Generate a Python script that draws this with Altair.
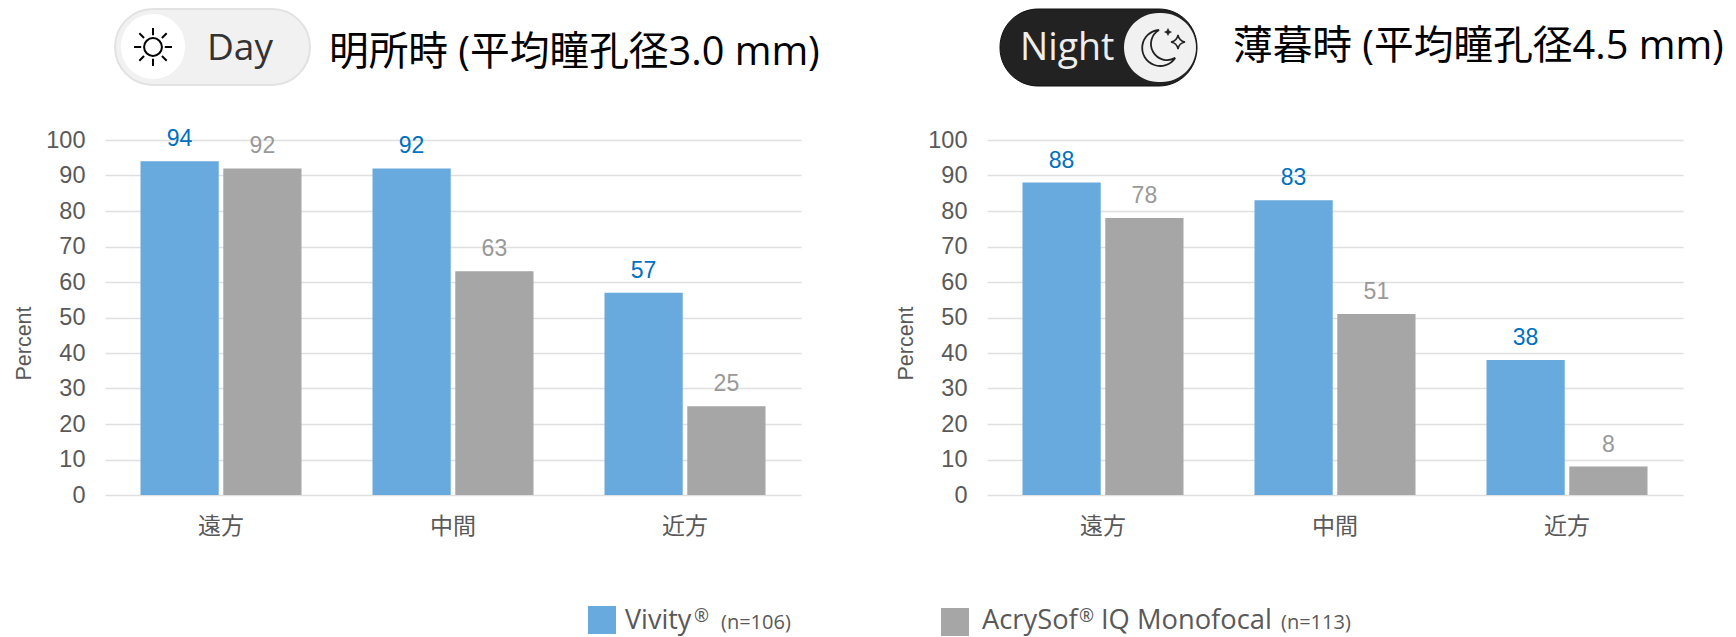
import altair as alt
import pandas as pd

categories = ["遠方", "中間", "近方"]
series = ["Vivity", "AcrySof"]
day_vivity = [94, 92, 57]
day_acrysof = [92, 63, 25]
night_vivity = [88, 83, 38]
night_acrysof = [78, 51, 8]
ticks = list(range(0, 101, 10))

BLUE = "#68a9de"
GREY = "#a6a6a6"
BLUE_TXT = "#0070c0"
GREY_TXT = "#999999"
AXIS_TXT = "#595959"
GRID = "#e0e0e0"
LAT = "Liberation Sans, Noto Sans CJK JP"
OPEN = "Open Sans, Noto Sans CJK JP"

PW, PH = 696, 355
TOPY, LEFT1, LEFT2 = 140, 105, 987

SUN = ("M-0.47,0 A0.47,0.47 0 1,1 0.47,0 A0.47,0.47 0 1,1 -0.47,0 Z "
       "M0,-0.62 L0,-1 M0,0.62 L0,1 M-0.62,0 L-1,0 M0.62,0 L1,0 "
       "M-0.47,-0.47 L-0.72,-0.72 M0.47,-0.47 L0.72,-0.72 "
       "M-0.47,0.47 L-0.72,0.72 M0.47,0.47 L0.72,0.72")
MOON = "M0,-1 A1,1 0 1,0 0.9,0.55 A0.85,0.85 0 0,1 0,-1 Z"
STAR = "M0,-1 Q0.15,-0.15 1,0 Q0.15,0.15 0,1 Q-0.15,0.15 -1,0 Q-0.15,-0.15 0,-1 Z"


def frame(vals_a, vals_b):
    return pd.DataFrame({
        "cat": categories * 2,
        "series": [series[0]] * 3 + [series[1]] * 3,
        "value": list(vals_a) + list(vals_b),
    })


def T(x, y, text, size, color="#000000", font=OPEN, weight=400, align="left", base="middle"):
    return alt.Chart(pd.DataFrame({"t": [text]})).mark_text(
        font=font, fontSize=size, color=color, fontWeight=weight, align=align, baseline=base
    ).encode(x=alt.value(x), y=alt.value(y), text="t:N")


def R(x1, x2, y1, y2, fill, radius=0, stroke=None, sw=0):
    kw = {"stroke": stroke, "strokeWidth": sw} if stroke else {}
    return alt.Chart(pd.DataFrame({"a": [0]})).mark_rect(
        fill=fill, cornerRadius=radius, clip=False, **kw
    ).encode(x=alt.value(x1), x2=alt.value(x2), y=alt.value(y1), y2=alt.value(y2))


def P(x, y, shape, size, fill="transparent", stroke="#000000", sw=1.5):
    return alt.Chart(pd.DataFrame({"a": [0]})).mark_point(
        shape=shape, size=size, fill=fill, stroke=stroke, strokeWidth=sw, opacity=1, filled=False
    ).encode(x=alt.value(x), y=alt.value(y))


def panel(vals_a, vals_b):
    df = frame(vals_a, vals_b)
    x = alt.X("cat:N", sort=categories, scale=alt.Scale(paddingInner=0.306, paddingOuter=0.153),
              axis=alt.Axis(title=None, labelAngle=0, labelFont="Noto Sans CJK JP", labelFontSize=23,
                            labelColor=AXIS_TXT, labelPadding=20, ticks=False, domain=False, grid=False))
    y = alt.Y("value:Q", scale=alt.Scale(domain=[0, 100], nice=False),
              axis=alt.Axis(values=ticks, title="Percent", titleFont=LAT, titleFontSize=21.5,
                            titleFontWeight=400, titleColor=AXIS_TXT, titleX=-70, titleY=203,
                            labelFont=LAT, labelFontSize=23.5, labelColor=AXIS_TXT, labelPadding=20,
                            labelOverlap=False, labelFlush=False,
                            ticks=False, domain=False, gridColor=GRID, gridWidth=1.6))
    xo = alt.XOffset("series:N", sort=series,
                     scale=alt.Scale(domain=series, paddingInner=0.055, paddingOuter=0))
    color = alt.Color("series:N", sort=series, legend=None, scale=alt.Scale(domain=series, range=[BLUE, GREY]))
    bars = alt.Chart(df).mark_bar().encode(x=x, xOffset=xo, y=y, color=color)
    layers = [bars]
    for name, col in zip(series, [BLUE_TXT, GREY_TXT]):
        layers.append(
            alt.Chart(df[df["series"] == name]).mark_text(
                dy=-10, baseline="bottom", font=LAT, fontSize=23, color=col
            ).encode(x=x, xOffset=xo, y=y, text="value:Q")
        )
    return layers


left = alt.layer(
    *panel(day_vivity, day_acrysof),
    R(115 - LEFT1, 310 - LEFT1, 9 - TOPY, 85 - TOPY, "#f1f1f1", 38, "#e2e2e2", 2),
    R(121 - LEFT1, 185 - LEFT1, 14 - TOPY, 79 - TOPY, "#ffffff", 32),
    P(153 - LEFT1, 47 - TOPY, SUN, 1444, sw=2),
    T(207 - LEFT1, 49 - TOPY, "Day", 37, "#333333", OPEN),
    T(329 - LEFT1, 53 - TOPY, "明所時 (平均瞳孔径3.0 mm)", 39.7),
    R(588 - LEFT1, 616 - LEFT1, 606 - TOPY, 634 - TOPY, BLUE),
    T(625 - LEFT1, 621 - TOPY, "Vivity", 27, AXIS_TXT),
    T(694 - LEFT1, 617 - TOPY, "®", 18, AXIS_TXT),
    T(721 - LEFT1, 623 - TOPY, "(n=106)", 20, AXIS_TXT),
    R(941 - LEFT1, 969 - LEFT1, 608 - TOPY, 636 - TOPY, GREY),
    T(982 - LEFT1, 621 - TOPY, "AcrySof", 27.3, AXIS_TXT),
    T(1079 - LEFT1, 617 - TOPY, "®", 18, AXIS_TXT),
    T(1101 - LEFT1, 621 - TOPY, "IQ Monofocal", 27.3, AXIS_TXT),
    T(1281 - LEFT1, 623 - TOPY, "(n=113)", 20, AXIS_TXT),
).properties(width=PW, height=PH)

right = alt.layer(
    *panel(night_vivity, night_acrysof),
    R(1000 - LEFT2, 1197 - LEFT2, 9 - TOPY, 86 - TOPY, "#222222", 38, "#111111", 1),
    R(1124 - LEFT2, 1196 - LEFT2, 13 - TOPY, 82 - TOPY, "#f1f1f1", 35),
    P(1159 - LEFT2, 48 - TOPY, MOON, 1296, sw=1.8, stroke="#222222"),
    P(1168 - LEFT2, 32 - TOPY, STAR, 49, fill="#222222", stroke="#222222", sw=0.5),
    P(1178 - LEFT2, 42 - TOPY, STAR, 196, sw=1.5, stroke="#222222"),
    T(1020 - LEFT2, 49 - TOPY, "Night", 37.5, "#eeeeee", OPEN),
    T(1233 - LEFT2, 47 - TOPY, "薄暮時 (平均瞳孔径4.5 mm)", 39.7),
).properties(width=PW, height=PH)

chart = alt.hconcat(left, right, spacing=LEFT2 - LEFT1 - PW, bounds="flush").properties(
    padding={"left": 5, "right": 0, "top": 0, "bottom": 0}
).configure_view(stroke=None)

chart.save("out.html", embed_options={"renderer": "svg", "actions": False})
